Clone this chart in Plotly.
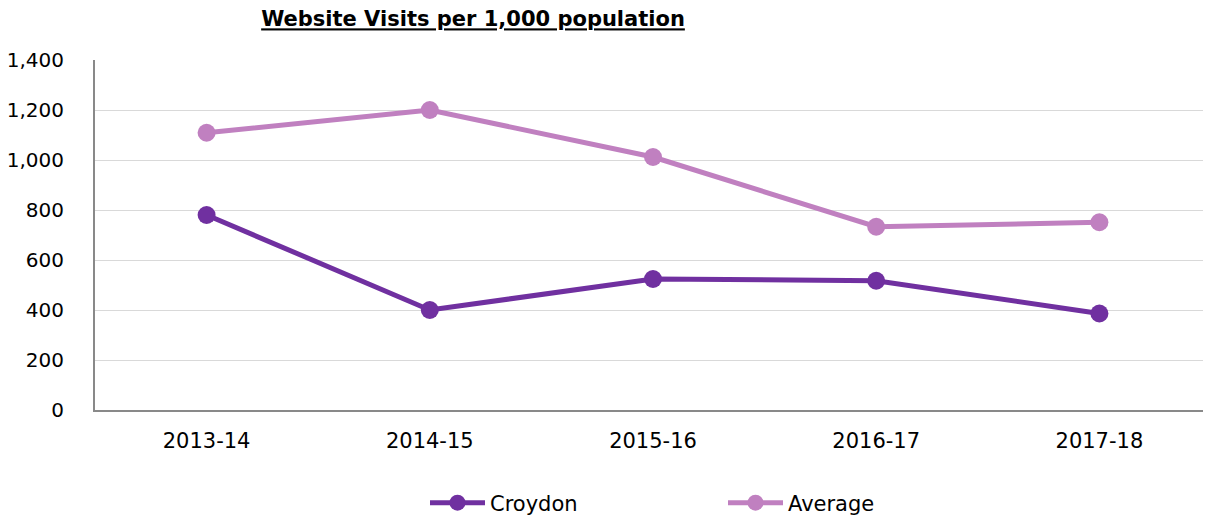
import plotly.graph_objects as go

categories = ["2013-14", "2014-15", "2015-16", "2016-17", "2017-18"]
croydon = [780, 400, 524, 517, 386]
average = [1109, 1200, 1012, 733, 751]
y_ticks = [0, 200, 400, 600, 800, 1000, 1200, 1400]
y_tick_labels = ["0", "200", "400", "600", "800", "1,000", "1,200", "1,400"]

FONT = "DejaVu Sans"
W, H = 1203, 510  # page body has an 8px margin

fig = go.Figure()
fig.add_trace(go.Scatter(
    x=categories, y=croydon, name="Croydon", mode="lines+markers",
    line=dict(color="#7030A0", width=5),
    marker=dict(color="#7030A0", size=18),
))
fig.add_trace(go.Scatter(
    x=categories, y=average, name="Average", mode="lines+markers",
    line=dict(color="#C080C0", width=5),
    marker=dict(color="#C080C0", size=18),
))

fig.update_layout(
    width=W, height=H,
    paper_bgcolor="white", plot_bgcolor="white",
    margin=dict(l=87, r=0, t=52, b=108),
    font=dict(family=FONT, size=21, color="#000000"),
    title=dict(
        text="<b><u>Website Visits per 1,000 population</u></b>",
        font=dict(family=FONT, size=21, color="#000000"),
        x=465 / W, xref="container", xanchor="center",
        y=1 - 11 / H, yref="container", yanchor="middle",
    ),
    showlegend=True,
    legend=dict(
        orientation="h", xref="container", yref="container",
        x=417 / W, xanchor="left", y=1 - 495 / H, yanchor="middle",
        entrywidth=228, entrywidthmode="pixels",
        font=dict(family=FONT, size=21, color="#000000"),
        itemwidth=55,
    ),
    xaxis=dict(
        type="category", range=[-0.5, 4.5], automargin=False,
        showgrid=False, showline=True, linecolor="#898989", linewidth=2,
        ticks="", ticklabelstandoff=11,
        tickfont=dict(family=FONT, size=21, color="#000000"),
        zeroline=False,
    ),
    yaxis=dict(
        range=[0, 1400], tickvals=y_ticks, ticktext=y_tick_labels,
        automargin=False,
        showgrid=True, gridcolor="#D9D9D9", gridwidth=1,
        showline=True, linecolor="#898989", linewidth=2,
        ticks="", ticklabelstandoff=25,
        tickfont=dict(family=FONT, size=20, color="#000000"),
        zeroline=False,
    ),
)

fig.write_html("out.html")
